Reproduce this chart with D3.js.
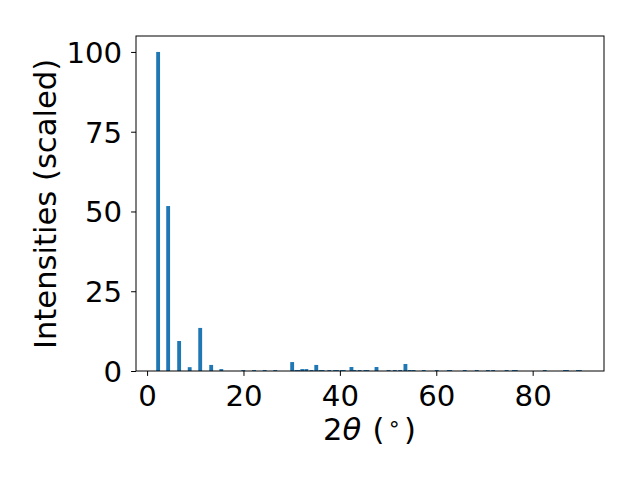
<!DOCTYPE html>
<html>
<head>
<meta charset="utf-8">
<script src="https://cdn.jsdelivr.net/npm/d3@7"></script>
<style>
  body { margin: 0; background: #fff; }
  svg { display: block; }
  text { font-family: "DejaVu Sans", sans-serif; }
</style>
</head>
<body>
<svg id="chart" width="640" height="480"></svg>
<script>
// 2θ positions (degrees) and scaled intensities
const twoTheta = [2.29, 4.37, 6.65, 8.84, 11.02, 13.3, 15.4, 19.96, 22.2, 24.4, 26.6,
  30.1, 31.0, 31.4, 32.2, 33.05, 34.1, 35.1, 36.0, 36.4, 37.8, 39.0, 39.4, 40.4, 40.8,
  42.4, 43.0, 44.1, 45.3, 45.7, 47.6, 50.1, 51.4, 52.5, 53.6, 54.5, 55.3, 57.4, 60.1,
  62.6, 62.9, 65.9, 68.4, 70.7, 71.8, 74.6, 76.1, 76.5, 82.5, 86.7, 87.1, 89.4, 89.8];
const intensity = [100, 51.7, 9.4, 1.2, 13.5, 1.9, 0.6, 0.3, 0.3, 0.3, 0.3,
  2.8, 0.3, 0.3, 0.6, 0.6, 0.3, 1.9, 0.3, 0.3, 0.3, 0.3, 0.3, 0.3, 0.3,
  1.25, 0.3, 0.3, 0.3, 0.3, 1.25, 0.3, 0.3, 0.3, 2.2, 0.3, 0.3, 0.3, 0.3,
  0.3, 0.3, 0.3, 0.3, 0.3, 0.3, 0.3, 0.3, 0.3, 0.3, 0.3, 0.3, 0.3, 0.3];
const xTicks = [0, 20, 40, 60, 80];
const yTicks = [0, 25, 50, 75, 100];
const barWidth = 0.8;

const data = twoTheta.map((t, i) => ({ t, v: intensity[i] }));

const svg = d3.select("#chart");
const m = { left: 136, right: 604, top: 36, bottom: 371 };

const x = d3.scaleLinear().domain([-2.3, 94.8]).range([m.left, m.right]);
const y = d3.scaleLinear().domain([0, 105]).range([m.bottom, m.top]);

svg.append("g")
  .selectAll("rect")
  .data(data)
  .join("rect")
  .attr("x", d => x(d.t - barWidth / 2))
  .attr("width", d => x(d.t + barWidth / 2) - x(d.t - barWidth / 2))
  .attr("y", d => y(d.v))
  .attr("height", d => y(0) - y(d.v))
  .attr("fill", "#1f77b4");

const tickFs = 29.2;
const fs = 30.6;

const xAxis = svg.append("g")
  .attr("transform", `translate(0,${m.bottom})`)
  .call(d3.axisBottom(x).tickValues(xTicks).tickSize(4.9).tickPadding(9.3).tickFormat(d3.format("d")));
const yAxis = svg.append("g")
  .attr("transform", `translate(${m.left},0)`)
  .call(d3.axisLeft(y).tickValues(yTicks).tickSize(4.9).tickPadding(9).tickFormat(d3.format("d")));

[xAxis, yAxis].forEach(g => {
  g.select(".domain").remove();
  g.selectAll(".tick line").attr("stroke", "#000").attr("stroke-width", 1);
  g.selectAll(".tick text").attr("fill", "#000")
    .style("font-size", tickFs + "px").style("font-family", "'DejaVu Sans', sans-serif");
});
yAxis.selectAll(".tick text").attr("dy", "10.5px");

svg.append("rect")
  .attr("x", m.left).attr("y", m.top)
  .attr("width", m.right - m.left).attr("height", m.bottom - m.top)
  .attr("fill", "none").attr("stroke", "#000").attr("stroke-width", 1);

// x label: 2θ (°)
const xl = svg.append("text")
  .attr("x", 323)
  .attr("y", 440)
  .attr("text-anchor", "start")
  .style("font-size", fs + "px")
  .attr("fill", "#000");
xl.append("tspan").text("2");
xl.append("tspan").style("font-style", "italic").text("θ");
xl.append("tspan").attr("x", 372.5).text("(");
xl.append("tspan").attr("x", 387.5).attr("dy", -9).style("font-size", (fs * 0.7) + "px").text("∘");
xl.append("tspan").attr("x", 404).attr("dy", 9).text(")");

// y label
svg.append("text")
  .attr("transform", `translate(56,204) rotate(-90)`)
  .attr("text-anchor", "middle")
  .style("font-size", fs + "px")
  .attr("fill", "#000")
  .text("Intensities (scaled)");
</script>
</body>
</html>
